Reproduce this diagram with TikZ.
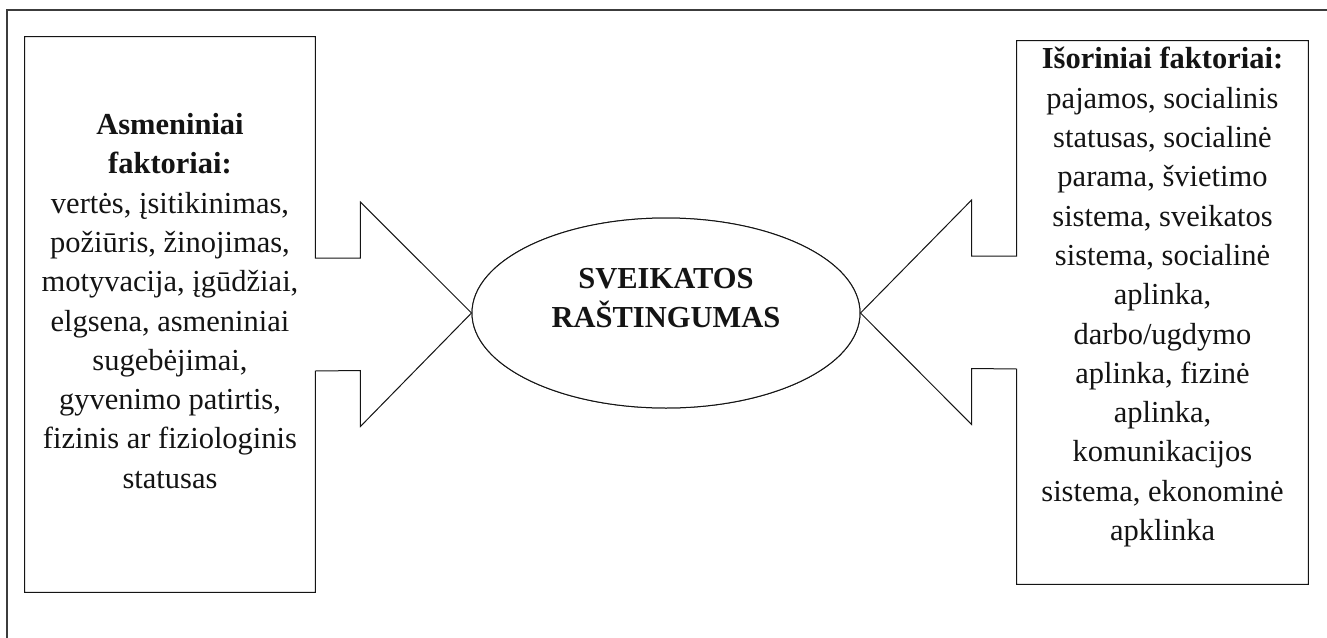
\documentclass[tikz,border=0pt]{standalone}
\usepackage{fontspec}
\setmainfont{Liberation Serif}
\usetikzlibrary{positioning,shapes.geometric,calc}
\definecolor{ink}{RGB}{20,20,20}
\definecolor{rim}{RGB}{60,60,60}
\tikzset{
  sheet/.style={draw=rim,line width=0.7pt},
  outline/.style={draw=ink,line width=0.5pt,fill=white},
  panel/.style={inner sep=0pt,minimum width=#1},
  panel/.default=145pt,
  core/.style={ellipse,draw=ink,line width=0.5pt,fill=white,inner sep=0pt,
    minimum width=194pt,minimum height=95pt},
  blurb/.style={font=\fontsize{15.25pt}{19.65pt}\selectfont,text=ink,align=center,
    inner sep=0pt,anchor=north},
}
\begin{document}
\begin{tikzpicture}[x=0.5pt,y=-0.5pt]
  \useasboundingbox (0,0) rectangle (1327,637);
  \draw[sheet] (7,640) -- (7,10) -- (1330,10);

  % placeholders for the two side panels and the centre
  \node[panel,minimum height=277.5pt] (lbox) at (170,314.5) {};
  \node[panel=145.5pt,minimum height=271.5pt] (rbox) at (1162.5,312.5) {};
  \node[core] (core) at (666,313) {};

  % callouts pointing at the centre
  \draw[outline] (lbox.north west) -- (lbox.north east) -- ($(lbox.east)+(0,-56.5)$)
    -- ++(45,0) -- ++(0,-56) -- (core.west) -- ($(lbox.east)+(45,112)$) -- ++(0,-56)
    -- ($(lbox.east)+(0,56.5)$) -- (lbox.south east) -- (lbox.south west) -- cycle;
  \draw[outline] (rbox.north east) -- (rbox.north west) -- ($(rbox.west)+(0,-56.5)$)
    -- ++(-45,0) -- ++(0,-56) -- (core.east) -- ($(rbox.west)+(-45,112)$) -- ++(0,-56)
    -- ($(rbox.west)+(0,56.5)$) -- (rbox.south west) -- (rbox.south east) -- cycle;
  \node[core] at (core) {};

  \node[blurb] (ltext) at (170,113) {\textbf{Asmeniniai}\\\textbf{faktoriai:}\\
    vertės, įsitikinimas,\\požiūris, žinojimas,\\motyvacija, įgūdžiai,\\
    elgsena, asmeniniai\\sugebėjimai,\\gyvenimo patirtis,\\
    fizinis ar fiziologinis\\statusas};
  \node[blurb] (rtext) at (1162.5,47) {\textbf{Išoriniai faktoriai:}\\
    pajamos, socialinis\\statusas, socialinė\\parama, švietimo\\
    sistema, sveikatos\\sistema, socialinė\\aplinka,\\darbo/ugdymo\\
    aplinka, fizinė\\aplinka,\\komunikacijos\\sistema, ekonominė\\apklinka};
  \node[blurb,font=\fontsize{15.25pt}{19.65pt}\selectfont\bfseries] (title) at (666,268)
    {SVEIKATOS\\RAŠTINGUMAS};
\end{tikzpicture}
\end{document}
